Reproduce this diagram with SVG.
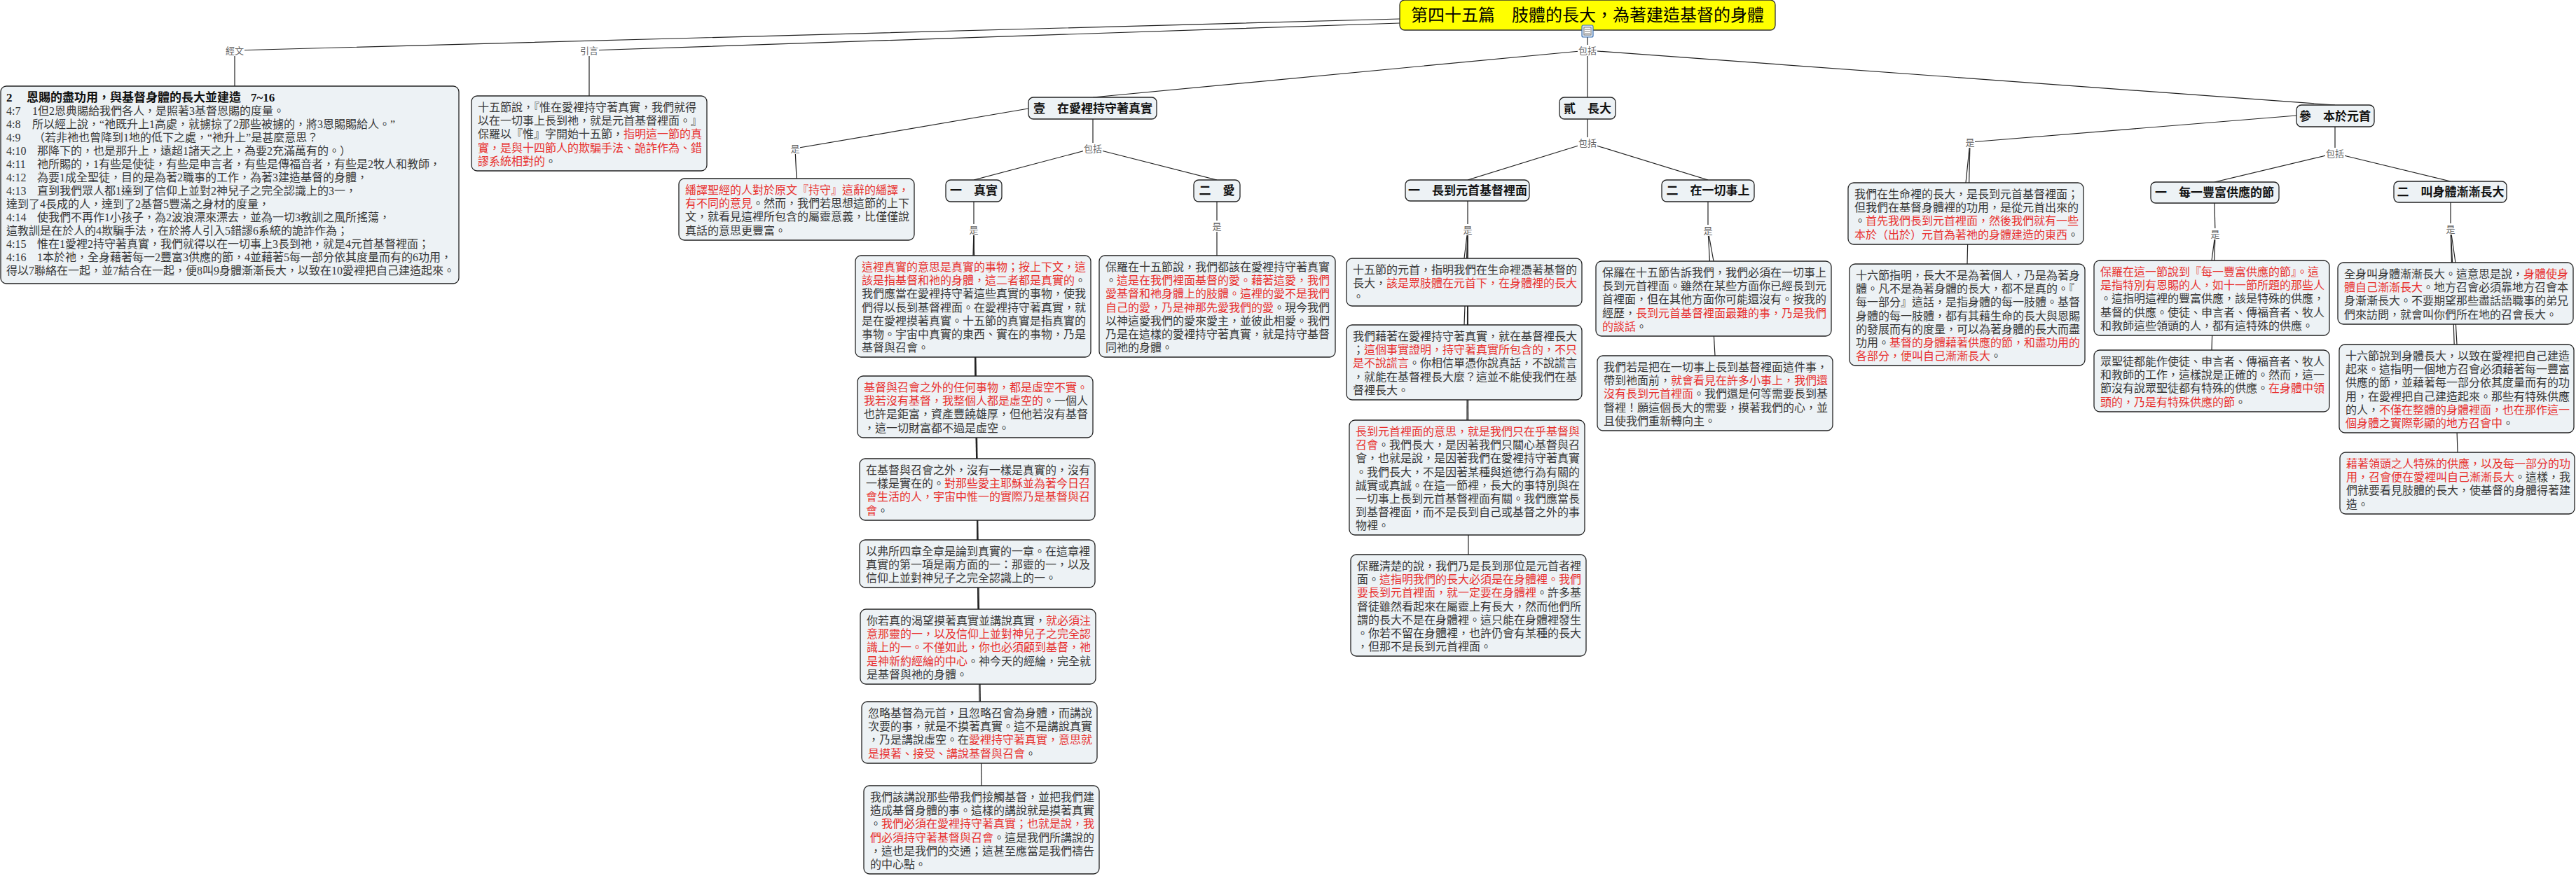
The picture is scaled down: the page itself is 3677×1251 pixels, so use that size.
<svg xmlns="http://www.w3.org/2000/svg" width="3677" height="1251" viewBox="0 0 3677 1251">
<style>
.bg{fill:#ffffff}
.box{fill:#EDF2F5;stroke:#222;stroke-width:1.3}
.title{fill:#FFFF00;stroke:#333;stroke-width:1.3}
.t{font-family:'Liberation Serif','Noto Sans CJK TC',serif;font-size:16px;fill:#383838}
.b{font-weight:bold;fill:#111;font-size:17px}
.r{fill:#E8312F}
.h{font-family:'Liberation Serif','Noto Sans CJK TC',serif;font-size:17px;font-weight:bold;fill:#111;text-anchor:middle}
.tt{font-family:'Liberation Serif','Noto Sans CJK TC',serif;font-size:24px;fill:#000;text-anchor:middle}
.c{stroke:#222;stroke-width:1.2;fill:none}
.lb{fill:#fff}
.lt{font-family:'Liberation Sans','Noto Sans CJK TC',sans-serif;font-size:13px;fill:#666;text-anchor:middle}
</style>
<rect class="bg" x="0" y="0" width="3677" height="1251"/>

<g id="connectors">
<polyline class="c" points="1998,27 335,72 335,123"/>
<polyline class="c" points="1998,33 841,72 841,137"/>
<line class="c" x1="2266" y1="44" x2="2266" y2="139"/>
<line class="c" x1="2266" y1="72" x2="1560" y2="139"/>
<line class="c" x1="2266" y1="72" x2="3333" y2="150"/>
<polyline class="c" points="1468,155 1135,212 1137,255"/>
<line class="c" x1="1560" y1="170" x2="1560" y2="212"/>
<line class="c" x1="1560" y1="212" x2="1390" y2="257"/>
<line class="c" x1="1560" y1="212" x2="1737" y2="257"/>
<line class="c" x1="1390" y1="288" x2="1390" y2="328"/>
<line class="c" x1="1390" y1="328" x2="1389" y2="365"/>
<line class="c" x1="1390" y1="328" x2="1392" y2="537"/>
<line class="c" x1="1390" y1="328" x2="1395" y2="655"/>
<line class="c" x1="1390" y1="328" x2="1395" y2="771"/>
<line class="c" x1="1390" y1="328" x2="1396" y2="870"/>
<line class="c" x1="1390" y1="328" x2="1398" y2="1002"/>
<line class="c" x1="1390" y1="328" x2="1401" y2="1122"/>
<line class="c" x1="1737" y1="288" x2="1737" y2="365"/>
<line class="c" x1="2266" y1="170" x2="2266" y2="204"/>
<line class="c" x1="2266" y1="204" x2="2095" y2="257"/>
<line class="c" x1="2266" y1="204" x2="2438" y2="257"/>
<line class="c" x1="2095" y1="287" x2="2095" y2="328"/>
<line class="c" x1="2095" y1="328" x2="2090" y2="369"/>
<line class="c" x1="2095" y1="328" x2="2090" y2="464"/>
<line class="c" x1="2095" y1="328" x2="2094" y2="600"/>
<line class="c" x1="2095" y1="328" x2="2096" y2="792"/>
<line class="c" x1="2438" y1="288" x2="2438" y2="329"/>
<line class="c" x1="2438" y1="329" x2="2446" y2="373"/>
<line class="c" x1="2438" y1="329" x2="2448" y2="508"/>
<polyline class="c" points="3278,165 2812,203"/>
<line class="c" x1="2812" y1="203" x2="2806" y2="261"/>
<line class="c" x1="2812" y1="203" x2="2808" y2="377"/>
<line class="c" x1="3333" y1="181" x2="3333" y2="219"/>
<line class="c" x1="3333" y1="219" x2="3161" y2="260"/>
<line class="c" x1="3333" y1="219" x2="3498" y2="259"/>
<line class="c" x1="3161" y1="290" x2="3162" y2="334"/>
<line class="c" x1="3162" y1="334" x2="3157" y2="372"/>
<line class="c" x1="3162" y1="334" x2="3157" y2="500"/>
<line class="c" x1="3498" y1="289" x2="3498" y2="327"/>
<line class="c" x1="3498" y1="327" x2="3505" y2="375"/>
<line class="c" x1="3498" y1="327" x2="3507" y2="492"/>
<line class="c" x1="3498" y1="327" x2="3508" y2="646"/>
<rect class="lb" x="321" y="64" width="28" height="16"/><text class="lt" x="335" y="77">經文</text>
<rect class="lb" x="827" y="64" width="28" height="16"/><text class="lt" x="841" y="77">引言</text>
<rect class="lb" x="2252" y="64" width="28" height="16"/><text class="lt" x="2266" y="77">包括</text>
<rect class="lb" x="1128" y="204" width="14" height="16"/><text class="lt" x="1135" y="217">是</text>
<rect class="lb" x="1546" y="204" width="28" height="16"/><text class="lt" x="1560" y="217">包括</text>
<rect class="lb" x="1383" y="320" width="14" height="16"/><text class="lt" x="1390" y="333">是</text>
<rect class="lb" x="1730" y="315" width="14" height="16"/><text class="lt" x="1737" y="328">是</text>
<rect class="lb" x="2252" y="196" width="28" height="16"/><text class="lt" x="2266" y="209">包括</text>
<rect class="lb" x="2088" y="320" width="14" height="16"/><text class="lt" x="2095" y="333">是</text>
<rect class="lb" x="2431" y="321" width="14" height="16"/><text class="lt" x="2438" y="334">是</text>
<rect class="lb" x="2805" y="195" width="14" height="16"/><text class="lt" x="2812" y="208">是</text>
<rect class="lb" x="3319" y="211" width="28" height="16"/><text class="lt" x="3333" y="224">包括</text>
<rect class="lb" x="3155" y="326" width="14" height="16"/><text class="lt" x="3162" y="339">是</text>
<rect class="lb" x="3491" y="319" width="14" height="16"/><text class="lt" x="3498" y="332">是</text>
</g>

<g id="root">
<rect class="title" x="1998" y="0" width="536" height="43" rx="7"/>
<text class="tt" x="2266" y="30">第四十五篇　肢體的長大，為著建造基督的身體</text>
<rect x="2258" y="36" width="16" height="17" rx="2" fill="#dde8f5" stroke="#3a6fb0" stroke-width="1.2"/>
<rect x="2261" y="39" width="10" height="11" fill="#fff" stroke="#555" stroke-width="0.8"/>
<line x1="2262" y1="42" x2="2270" y2="42" stroke="#555" stroke-width="0.8"/>
<line x1="2262" y1="45" x2="2270" y2="45" stroke="#555" stroke-width="0.8"/>
<line x1="2262" y1="48" x2="2270" y2="48" stroke="#555" stroke-width="0.8"/>
</g>

<g id="scripture">
<rect class="box" x="1" y="123" width="654" height="282" rx="8"/>
<text class="t b" y="145"><tspan x="9">2</tspan><tspan x="38">恩賜的盡功用，與基督身體的長大並建造</tspan><tspan x="358">7~16</tspan></text>
<text class="t" y="164"><tspan x="9">4:7</tspan><tspan x="46">1但2恩典賜給我們各人，是照著3基督恩賜的度量。</tspan></text>
<text class="t" y="183"><tspan x="9">4:8</tspan><tspan x="46">所以經上說，“祂既升上1高處，就擄掠了2那些被擄的，將3恩賜賜給人。”</tspan></text>
<text class="t" y="202"><tspan x="9">4:9</tspan><tspan x="48">（若非祂也曾降到1地的低下之處，“祂升上”是甚麼意思？</tspan></text>
<text class="t" y="221"><tspan x="9">4:10</tspan><tspan x="53">那降下的，也是那升上，遠超1諸天之上，為要2充滿萬有的。）</tspan></text>
<text class="t" y="240"><tspan x="9">4:11</tspan><tspan x="53">祂所賜的，1有些是使徒，有些是申言者，有些是傳福音者，有些是2牧人和教師，</tspan></text>
<text class="t" y="259"><tspan x="9">4:12</tspan><tspan x="53">為要1成全聖徒，目的是為著2職事的工作，為著3建造基督的身體，</tspan></text>
<text class="t" y="278"><tspan x="9">4:13</tspan><tspan x="53">直到我們眾人都1達到了信仰上並對2神兒子之完全認識上的3一，</tspan></text>
<text class="t" x="9" y="297">達到了4長成的人，達到了2基督5豐滿之身材的度量，</text>
<text class="t" y="316"><tspan x="9">4:14</tspan><tspan x="53">使我們不再作1小孩子，為2波浪漂來漂去，並為一切3教訓之風所搖蕩，</tspan></text>
<text class="t" x="9" y="335">這教訓是在於人的4欺騙手法，在於將人引入5錯謬6系統的詭詐作為；</text>
<text class="t" y="354"><tspan x="9">4:15</tspan><tspan x="53">惟在1愛裡2持守著真實，我們就得以在一切事上3長到祂，就是4元首基督裡面；</tspan></text>
<text class="t" y="373"><tspan x="9">4:16</tspan><tspan x="53">1本於祂，全身藉著每一2豐富3供應的節，4並藉著5每一部分依其度量而有的6功用，</tspan></text>
<text class="t" x="9" y="392">得以7聯絡在一起，並7結合在一起，便8叫9身體漸漸長大，以致在10愛裡把自己建造起來。</text>
</g>

<g id="intro">
<rect class="box" x="673" y="137" width="336" height="107" rx="8"/>
<text class="t" x="682" y="159">十五節說，『惟在愛裡持守著真實，我們就得</text>
<text class="t" x="682" y="178.2">以在一切事上長到祂，就是元首基督裡面。』</text>
<text class="t" x="682" y="197.4">保羅以『惟』字開始十五節，<tspan class="r">指明這一節的真</tspan></text>
<text class="t r" x="682" y="216.6">實，是與十四節人的欺騙手法、詭詐作為、錯</text>
<text class="t" x="682" y="235.8"><tspan class="r">謬系統相對的</tspan>。</text>
</g>

<g id="n1">
<rect class="box" x="1468" y="139" width="183" height="31" rx="7"/>
<text class="h" x="1560" y="161">壹　在愛裡持守著真實</text>
</g>
<g id="n1-is">
<rect class="box" x="969" y="255" width="336" height="88" rx="8"/>
<text class="t r" x="978" y="277">繙譯聖經的人對於原文『持守』這辭的繙譯，</text>
<text class="t" x="978" y="296.2"><tspan class="r">有不同的意見</tspan>。然而，我們若思想這節的上下</text>
<text class="t" x="978" y="315.4">文，就看見這裡所包含的屬靈意義，比僅僅說</text>
<text class="t" x="978" y="334.6">真話的意思更豐富。</text>
</g>

<g id="n1-1">
<rect class="box" x="1350" y="257" width="80" height="31" rx="7"/>
<text class="h" x="1390" y="278">一　真實</text>
</g>
<g id="n1-1-a">
<rect class="box" x="1221" y="365" width="336" height="145" rx="8"/>
<text class="t r" x="1230" y="387">這裡真實的意思是真實的事物；按上下文，這</text>
<text class="t" x="1230" y="406.2"><tspan class="r">該是指基督和祂的身體，這二者都是真實的</tspan>。</text>
<text class="t" x="1230" y="425.4">我們應當在愛裡持守著這些真實的事物，使我</text>
<text class="t" x="1230" y="444.6">們得以長到基督裡面。在愛裡持守著真實，就</text>
<text class="t" x="1230" y="463.8">是在愛裡摸著真實。十五節的真實是指真實的</text>
<text class="t" x="1230" y="483">事物。宇宙中真實的東西、實在的事物，乃是</text>
<text class="t" x="1230" y="502.2">基督與召會。</text>
</g>
<g id="n1-1-b">
<rect class="box" x="1224" y="537" width="336" height="88" rx="8"/>
<text class="t r" x="1233" y="559">基督與召會之外的任何事物，都是虛空不實。</text>
<text class="t" x="1233" y="578.2"><tspan class="r">我若沒有基督，我整個人都是虛空的</tspan>。一個人</text>
<text class="t" x="1233" y="597.4">也許是鉅富，資產豐饒雄厚，但他若沒有基督</text>
<text class="t" x="1233" y="616.6">，這一切財富都不過是虛空。</text>
</g>
<g id="n1-1-c">
<rect class="box" x="1227" y="655" width="336" height="88" rx="8"/>
<text class="t" x="1236" y="677">在基督與召會之外，沒有一樣是真實的，沒有</text>
<text class="t" x="1236" y="696.2">一樣是實在的。<tspan class="r">對那些愛主耶穌並為著今日召</tspan></text>
<text class="t r" x="1236" y="715.4">會生活的人，宇宙中惟一的實際乃是基督與召</text>
<text class="t" x="1236" y="734.6"><tspan class="r">會</tspan>。</text>
</g>
<g id="n1-1-d">
<rect class="box" x="1227" y="771" width="336" height="68" rx="8"/>
<text class="t" x="1236" y="793">以弗所四章全章是論到真實的一章。在這章裡</text>
<text class="t" x="1236" y="812.2">真實的第一項是兩方面的一：那靈的一，以及</text>
<text class="t" x="1236" y="831.4">信仰上並對神兒子之完全認識上的一。</text>
</g>
<g id="n1-1-e">
<rect class="box" x="1228" y="870" width="336" height="107" rx="8"/>
<text class="t" x="1237" y="892">你若真的渴望摸著真實並講說真實，<tspan class="r">就必須注</tspan></text>
<text class="t r" x="1237" y="911.2">意那靈的一，以及信仰上並對神兒子之完全認</text>
<text class="t r" x="1237" y="930.4">識上的一。不僅如此，你也必須顧到基督，祂</text>
<text class="t" x="1237" y="949.6"><tspan class="r">是神新約經綸的中心</tspan>。神今天的經綸，完全就</text>
<text class="t" x="1237" y="968.8">是基督與祂的身體。</text>
</g>
<g id="n1-1-f">
<rect class="box" x="1230" y="1002" width="336" height="88" rx="8"/>
<text class="t" x="1239" y="1024">忽略基督為元首，且忽略召會為身體，而講說</text>
<text class="t" x="1239" y="1043.2">次要的事，就是不摸著真實。這不是講說真實</text>
<text class="t" x="1239" y="1062.4">，乃是講說虛空。在<tspan class="r">愛裡持守著真實，意思就</tspan></text>
<text class="t" x="1239" y="1081.6"><tspan class="r">是摸著、接受、講說基督與召會</tspan>。</text>
</g>
<g id="n1-1-g">
<rect class="box" x="1233" y="1122" width="336" height="126" rx="8"/>
<text class="t" x="1242" y="1144">我們該講說那些帶我們接觸基督，並把我們建</text>
<text class="t" x="1242" y="1163.2">造成基督身體的事。這樣的講說就是摸著真實</text>
<text class="t" x="1242" y="1182.4">。<tspan class="r">我們必須在愛裡持守著真實；也就是說，我</tspan></text>
<text class="t" x="1242" y="1201.6"><tspan class="r">們必須持守著基督與召會</tspan>。這是我們所講說的</text>
<text class="t" x="1242" y="1220.8">，這也是我們的交通；這甚至應當是我們禱告</text>
<text class="t" x="1242" y="1240">的中心點。</text>
</g>

<g id="n1-2">
<rect class="box" x="1704" y="257" width="66" height="31" rx="7"/>
<text class="h" x="1737" y="278">二　愛</text>
</g>
<g id="n1-2-a">
<rect class="box" x="1569" y="365" width="337" height="145" rx="8"/>
<text class="t" x="1578" y="387">保羅在十五節說，我們都該在愛裡持守著真實</text>
<text class="t" x="1578" y="406.2">。<tspan class="r">這是在我們裡面基督的愛。藉著這愛，我們</tspan></text>
<text class="t r" x="1578" y="425.4">愛基督和祂身體上的肢體。這裡的愛不是我們</text>
<text class="t" x="1578" y="444.6"><tspan class="r">自己的愛，乃是神那先愛我們的愛</tspan>。現今我們</text>
<text class="t" x="1578" y="463.8">以神這愛我們的愛來愛主，並彼此相愛。我們</text>
<text class="t" x="1578" y="483">乃是在這樣的愛裡持守著真實，就是持守基督</text>
<text class="t" x="1578" y="502.2">同祂的身體。</text>
</g>

<g id="n2">
<rect class="box" x="2226" y="139" width="80" height="31" rx="7"/>
<text class="h" x="2266" y="161">貳　長大</text>
</g>
<g id="n2-1">
<rect class="box" x="2006" y="257" width="177" height="30" rx="7"/>
<text class="h" x="2095" y="278">一　長到元首基督裡面</text>
</g>
<g id="n2-1-a">
<rect class="box" x="1922" y="369" width="336" height="68" rx="8"/>
<text class="t" x="1931" y="391">十五節的元首，指明我們在生命裡憑著基督的</text>
<text class="t" x="1931" y="410.2">長大，<tspan class="r">該是眾肢體在元首下，在身體裡的長大</tspan></text>
<text class="t" x="1931" y="429.4">。</text>
</g>
<g id="n2-1-b">
<rect class="box" x="1922" y="464" width="336" height="107" rx="8"/>
<text class="t" x="1931" y="486">我們藉著在愛裡持守著真實，就在基督裡長大</text>
<text class="t" x="1931" y="505.2">；<tspan class="r">這個事實證明，持守著真實所包含的，不只</tspan></text>
<text class="t" x="1931" y="524.4"><tspan class="r">是不說謊言</tspan>。你相信單憑你說真話，不說謊言</text>
<text class="t" x="1931" y="543.6">，就能在基督裡長大麼？這並不能使我們在基</text>
<text class="t" x="1931" y="562.8">督裡長大。</text>
</g>
<g id="n2-1-c">
<rect class="box" x="1926" y="600" width="336" height="164" rx="8"/>
<text class="t r" x="1935" y="622">長到元首裡面的意思，就是我們只在乎基督與</text>
<text class="t" x="1935" y="641.2"><tspan class="r">召會</tspan>。我們長大，是因著我們只關心基督與召</text>
<text class="t" x="1935" y="660.4">會，也就是說，是因著我們在愛裡持守著真實</text>
<text class="t" x="1935" y="679.6">。我們長大，不是因著某種與道德行為有關的</text>
<text class="t" x="1935" y="698.8">誠實或真誠。在這一節裡，長大的事特別與在</text>
<text class="t" x="1935" y="718">一切事上長到元首基督裡面有關。我們應當長</text>
<text class="t" x="1935" y="737.2">到基督裡面，而不是長到自己或基督之外的事</text>
<text class="t" x="1935" y="756.4">物裡。</text>
</g>
<g id="n2-1-d">
<rect class="box" x="1928" y="792" width="336" height="145" rx="8"/>
<text class="t" x="1937" y="814">保羅清楚的說，我們乃是長到那位是元首者裡</text>
<text class="t" x="1937" y="833.2">面。<tspan class="r">這指明我們的長大必須是在身體裡。我們</tspan></text>
<text class="t" x="1937" y="852.4"><tspan class="r">要長到元首裡面，就一定要在身體裡</tspan>。許多基</text>
<text class="t" x="1937" y="871.6">督徒雖然看起來在屬靈上有長大，然而他們所</text>
<text class="t" x="1937" y="890.8">謂的長大不是在身體裡。這只能在身體裡發生</text>
<text class="t" x="1937" y="910">。你若不留在身體裡，也許仍會有某種的長大</text>
<text class="t" x="1937" y="929.2">，但那不是長到元首裡面。</text>
</g>

<g id="n2-2">
<rect class="box" x="2372" y="257" width="132" height="31" rx="7"/>
<text class="h" x="2438" y="278">二　在一切事上</text>
</g>
<g id="n2-2-a">
<rect class="box" x="2278" y="373" width="336" height="107" rx="8"/>
<text class="t" x="2287" y="395">保羅在十五節告訴我們，我們必須在一切事上</text>
<text class="t" x="2287" y="414.2">長到元首裡面。雖然在某些方面你已經長到元</text>
<text class="t" x="2287" y="433.4">首裡面，但在其他方面你可能還沒有。按我的</text>
<text class="t" x="2287" y="452.6">經歷，<tspan class="r">長到元首基督裡面最難的事，乃是我們</tspan></text>
<text class="t" x="2287" y="471.8"><tspan class="r">的談話</tspan>。</text>
</g>
<g id="n2-2-b">
<rect class="box" x="2280" y="508" width="336" height="107" rx="8"/>
<text class="t" x="2289" y="530">我們若是把在一切事上長到基督裡面這件事，</text>
<text class="t" x="2289" y="549.2">帶到祂面前，<tspan class="r">就會看見在許多小事上，我們還</tspan></text>
<text class="t" x="2289" y="568.4"><tspan class="r">沒有長到元首裡面</tspan>。我們還是何等需要長到基</text>
<text class="t" x="2289" y="587.6">督裡！願這個長大的需要，摸著我們的心，並</text>
<text class="t" x="2289" y="606.8">且使我們重新轉向主。</text>
</g>

<g id="n3">
<rect class="box" x="3278" y="150" width="111" height="31" rx="7"/>
<text class="h" x="3333" y="172">參　本於元首</text>
</g>
<g id="n3-is-a">
<rect class="box" x="2638" y="261" width="336" height="88" rx="8"/>
<text class="t" x="2647" y="283">我們在生命裡的長大，是長到元首基督裡面；</text>
<text class="t" x="2647" y="302.2">但我們在基督身體裡的功用，是從元首出來的</text>
<text class="t" x="2647" y="321.4">。<tspan class="r">首先我們長到元首裡面，然後我們就有一些</tspan></text>
<text class="t" x="2647" y="340.6"><tspan class="r">本於（出於）元首為著祂的身體建造的東西</tspan>。</text>
</g>
<g id="n3-is-b">
<rect class="box" x="2640" y="377" width="336" height="145" rx="8"/>
<text class="t" x="2649" y="399">十六節指明，長大不是為著個人，乃是為著身</text>
<text class="t" x="2649" y="418.2">體。凡不是為著身體的長大，都不是真的。『</text>
<text class="t" x="2649" y="437.4">每一部分』這話，是指身體的每一肢體。基督</text>
<text class="t" x="2649" y="456.6">身體的每一肢體，都有其藉生命的長大與恩賜</text>
<text class="t" x="2649" y="475.8">的發展而有的度量，可以為著身體的長大而盡</text>
<text class="t" x="2649" y="495">功用。<tspan class="r">基督的身體藉著供應的節，和盡功用的</tspan></text>
<text class="t" x="2649" y="514.2"><tspan class="r">各部分，便叫自己漸漸長大</tspan>。</text>
</g>

<g id="n3-1">
<rect class="box" x="3070" y="260" width="183" height="30" rx="7"/>
<text class="h" x="3161" y="281">一　每一豐富供應的節</text>
</g>
<g id="n3-1-a">
<rect class="box" x="2989" y="372" width="336" height="107" rx="8"/>
<text class="t r" x="2998" y="394">保羅在這一節說到『每一豐富供應的節』。這</text>
<text class="t r" x="2998" y="413.2">是指特別有恩賜的人，如十一節所題的那些人</text>
<text class="t" x="2998" y="432.4">。這指明這裡的豐富供應，該是特殊的供應，</text>
<text class="t" x="2998" y="451.6">基督的供應。使徒、申言者、傳福音者、牧人</text>
<text class="t" x="2998" y="470.8">和教師這些領頭的人，都有這特殊的供應。</text>
</g>
<g id="n3-1-b">
<rect class="box" x="2989" y="500" width="336" height="88" rx="8"/>
<text class="t" x="2998" y="522">眾聖徒都能作使徒、申言者、傳福音者、牧人</text>
<text class="t" x="2998" y="541.2">和教師的工作，這樣說是正確的。然而，這一</text>
<text class="t" x="2998" y="560.4">節沒有說眾聖徒都有特殊的供應。<tspan class="r">在身體中領</tspan></text>
<text class="t" x="2998" y="579.6"><tspan class="r">頭的，乃是有特殊供應的節</tspan>。</text>
</g>

<g id="n3-2">
<rect class="box" x="3417" y="259" width="161" height="30" rx="7"/>
<text class="h" x="3498" y="280">二　叫身體漸漸長大</text>
</g>
<g id="n3-2-a">
<rect class="box" x="3337" y="375" width="336" height="88" rx="8"/>
<text class="t" x="3346" y="397">全身叫身體漸漸長大。這意思是說，<tspan class="r">身體使身</tspan></text>
<text class="t" x="3346" y="416.2"><tspan class="r">體自己漸漸長大</tspan>。地方召會必須靠地方召會本</text>
<text class="t" x="3346" y="435.4">身漸漸長大。不要期望那些盡話語職事的弟兄</text>
<text class="t" x="3346" y="454.6">們來訪問，就會叫你們所在地的召會長大。</text>
</g>
<g id="n3-2-b">
<rect class="box" x="3339" y="492" width="335" height="126" rx="8"/>
<text class="t" x="3348" y="514">十六節說到身體長大，以致在愛裡把自己建造</text>
<text class="t" x="3348" y="533.2">起來。這指明一個地方召會必須藉著每一豐富</text>
<text class="t" x="3348" y="552.4">供應的節，並藉著每一部分依其度量而有的功</text>
<text class="t" x="3348" y="571.6">用，在愛裡把自己建造起來。那些有特殊供應</text>
<text class="t" x="3348" y="590.8">的人，<tspan class="r">不僅在整體的身體裡面，也在那作這一</tspan></text>
<text class="t" x="3348" y="610"><tspan class="r">個身體之實際彰顯的地方召會中</tspan>。</text>
</g>
<g id="n3-2-c">
<rect class="box" x="3340" y="646" width="335" height="88" rx="8"/>
<text class="t r" x="3349" y="668">藉著領頭之人特殊的供應，以及每一部分的功</text>
<text class="t" x="3349" y="687.2"><tspan class="r">用，召會便在愛裡叫自己漸漸長大</tspan>。這樣，我</text>
<text class="t" x="3349" y="706.4">們就要看見肢體的長大，使基督的身體得著建</text>
<text class="t" x="3349" y="725.6">造。</text>
</g>
</svg>
